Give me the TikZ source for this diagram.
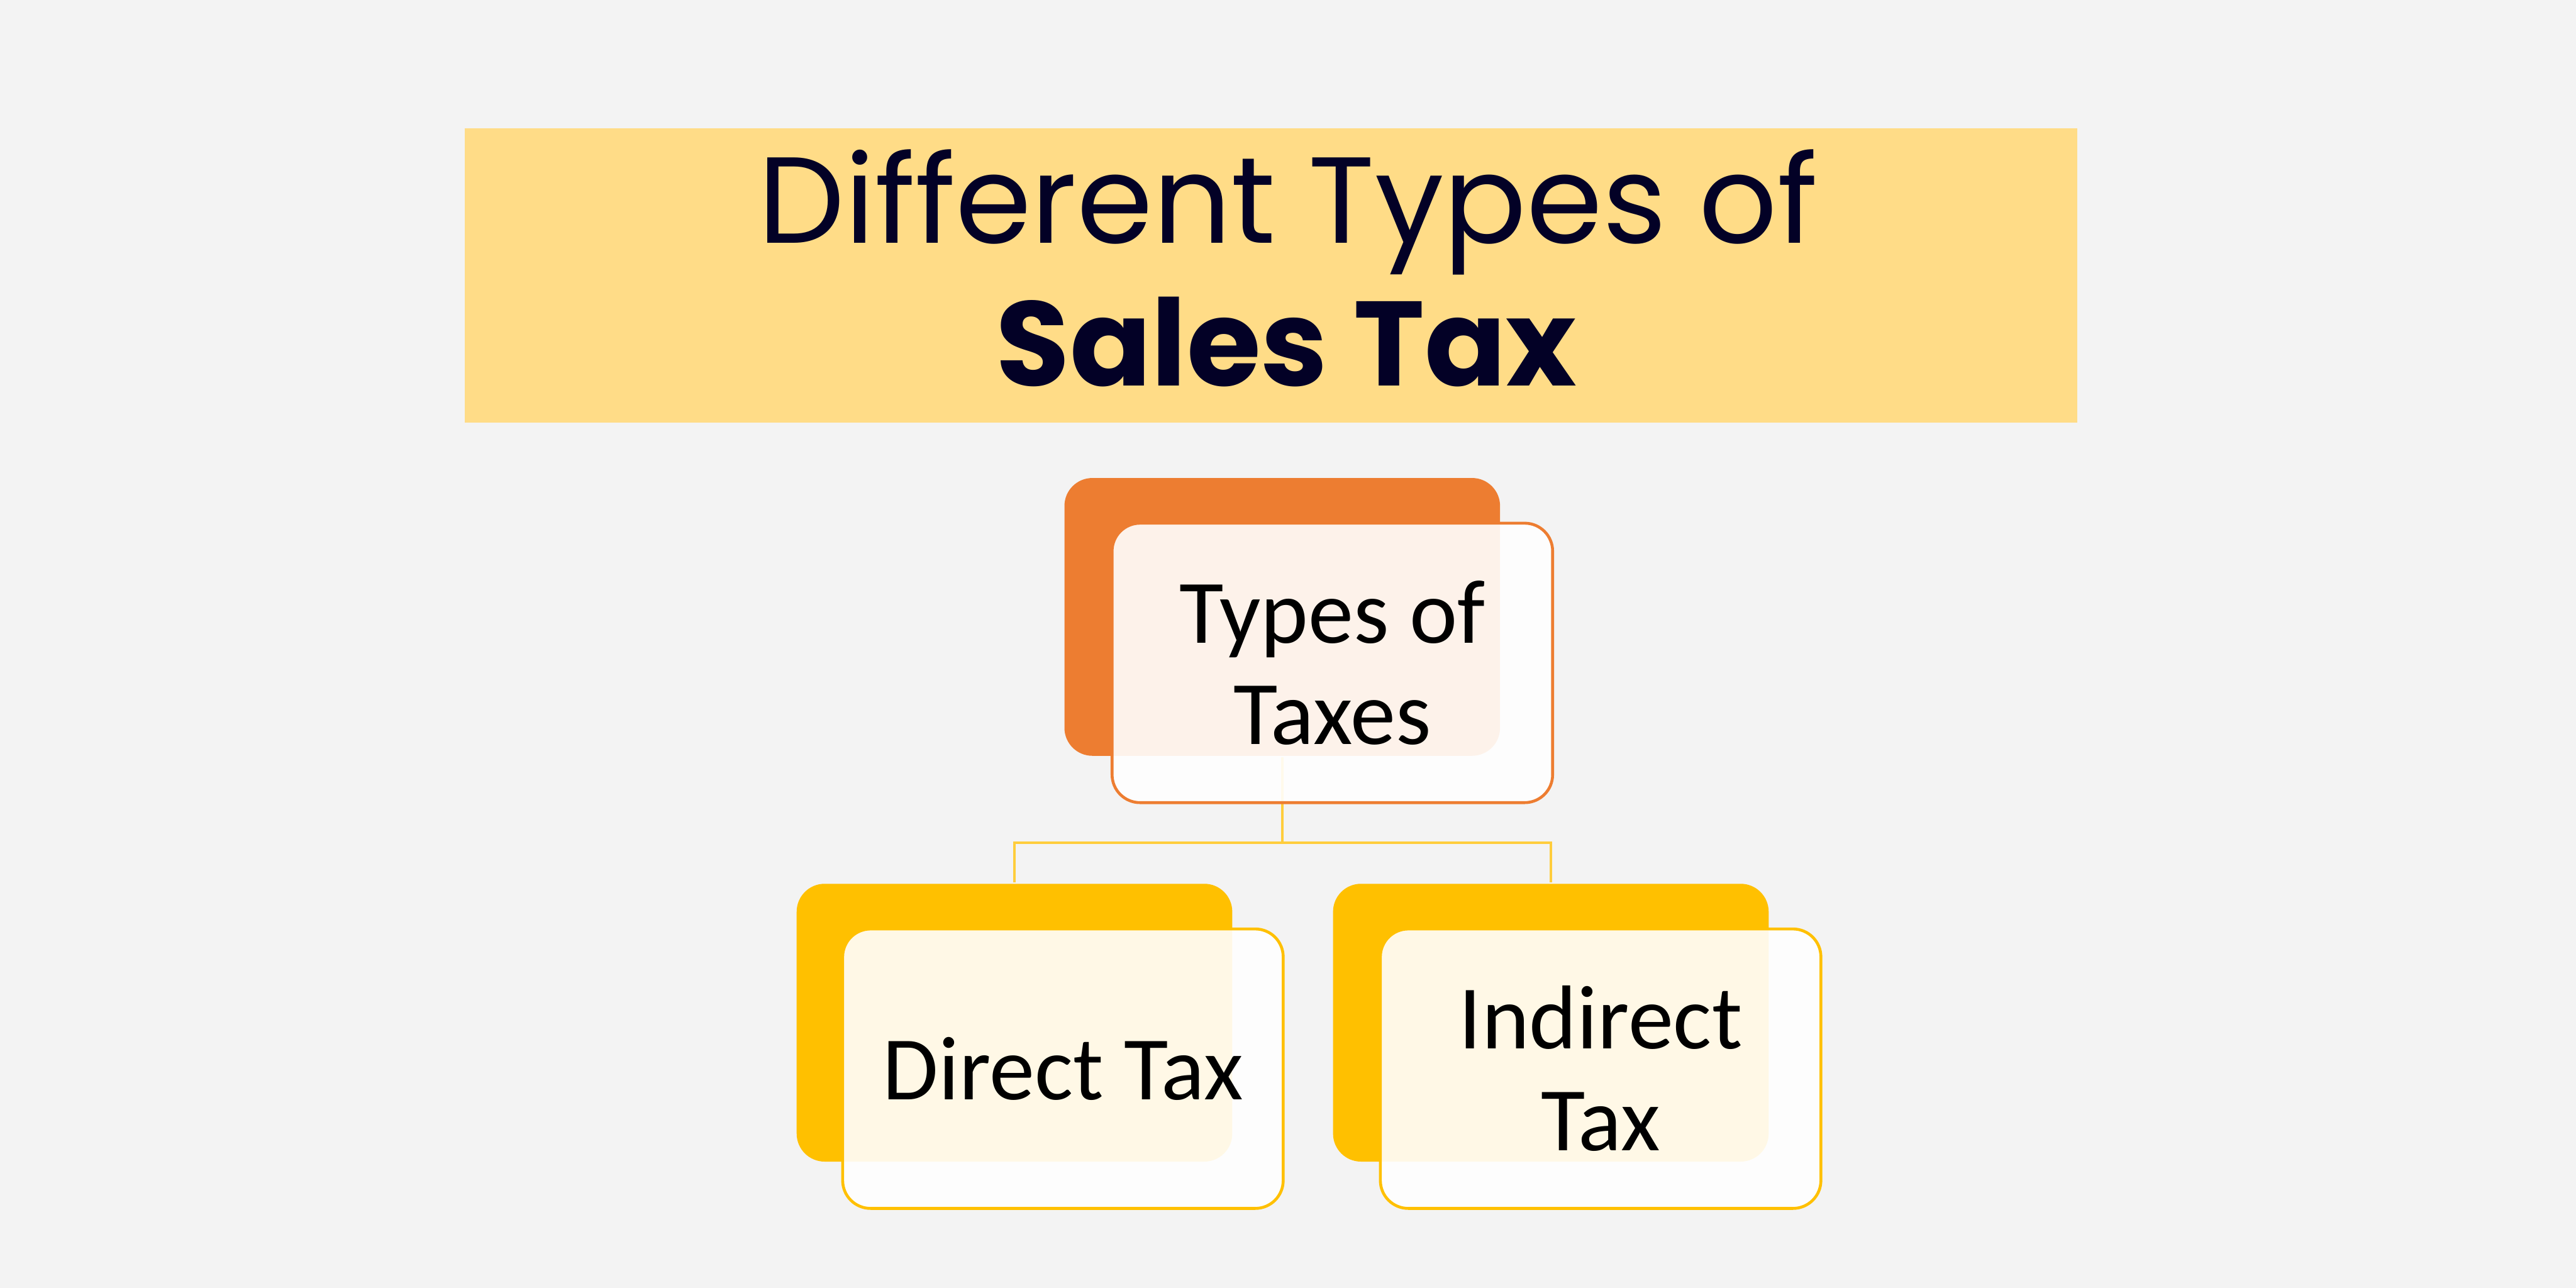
\documentclass[tikz,border=0pt]{standalone}
\usepackage{fontspec}
\setmainfont{Carlito}
\newfontfamily\poppins{Poppins}
\definecolor{pagebg}{RGB}{243,243,243}
\definecolor{titlebg}{RGB}{255,220,135}
\definecolor{titleink}{RGB}{3,1,38}
\definecolor{taxorange}{RGB}{237,125,49}
\definecolor{taxyellow}{RGB}{255,192,0}
\definecolor{linkyellow}{RGB}{255,205,60}
\begin{document}
\begin{tikzpicture}[x=0.01cm,y=-0.01cm,
    back/.style={rounded corners=0.17cm, inner sep=0pt,
      minimum width=2.65cm, minimum height=1.69cm},
    front/.style={rounded corners=0.17cm, inner sep=0pt,
      minimum width=2.68cm, minimum height=1.70cm,
      fill=white, fill opacity=0.9, text opacity=1, line width=0.5pt,
      align=center, font=\fontsize{15.7}{17.6}\selectfont},
    heading/.style={anchor=base, text=titleink},
    link/.style={draw=linkyellow, line width=0.45pt}]
  \fill[pagebg] (0,0) rectangle (1568,784);
  \node[fill=titlebg, inner sep=0pt, minimum width=9.81cm, minimum height=1.79cm]
    (titlebox) at (773.5,167.5) {};
  \node[heading, font=\poppins\fontsize{21.2}{24}\selectfont]
    (title) at (784,148) {Different Types of};
  \node[heading, font=\poppins\bfseries\fontsize{20.8}{24}\selectfont]
    (subtitle) at (783,235) {Sales Tax};
  \node[back, fill=taxorange] (typesback) at (780.5,375.5) {};
  \node[back, fill=taxyellow] (directback) at (617.5,622.5) {};
  \node[back, fill=taxyellow] (indirectback) at (944,622.5) {};
  \coordinate (fork) at (780.5,513);
  \begin{scope}[link]
    \draw (typesback.south) to (fork);
    \draw (fork) -| (directback.north);
    \draw (fork) -| (indirectback.north);
  \end{scope}
  \node[front, draw=taxorange] (types) at (811,403.5) {Types of\\Taxes};
  \node[front, draw=taxyellow] (direct) at (647,650.5) {Direct Tax};
  \node[front, draw=taxyellow] (indirect) at (974.3,650.5) {Indirect\\Tax};
\end{tikzpicture}
\end{document}
